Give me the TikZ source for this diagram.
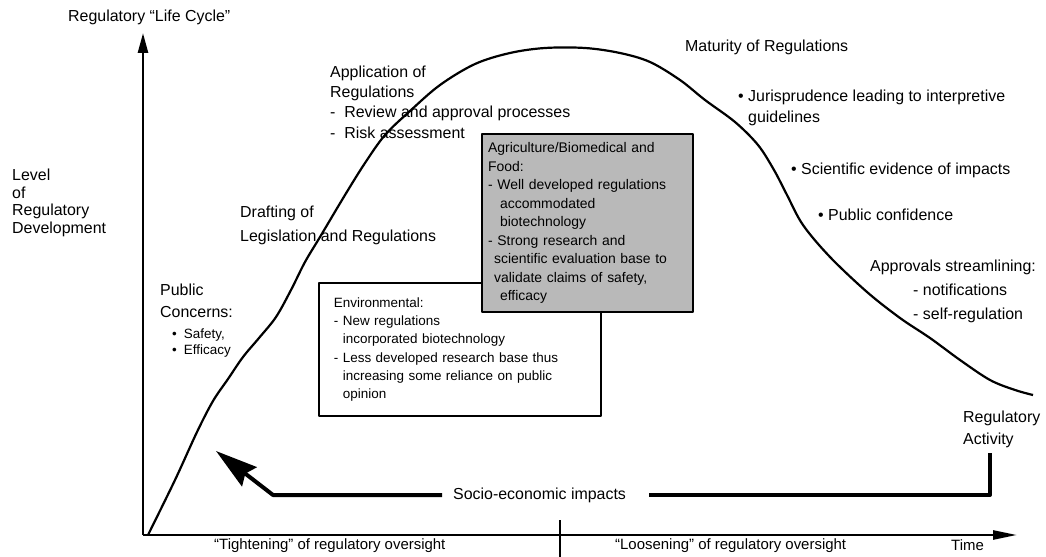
\documentclass[tikz,border=0pt]{standalone}
\usepackage{fontspec}
\setmainfont{Liberation Sans}
\usetikzlibrary{arrows.meta,calc}

\newcommand{\fsz}[2]{\fontsize{#1}{#2}\selectfont}

\begin{document}
\begin{tikzpicture}[x=1bp,y=-1bp,line join=round,
  lbl/.style={anchor=west,inner sep=0pt,align=left,font=\fsz{16}{20}},
  axis/.style={line width=2.6bp},
  cycle/.style={line width=2.2bp},
  impact/.style={line width=4bp}]
  \useasboundingbox (0,0) rectangle (1046,557);
  % axes
  \coordinate (O) at (143,535);
  \coordinate (ytop) at (143,33);
  \coordinate (xend) at (1017,535);
  \draw[axis,-{Triangle[length=20bp,width=10bp]}] (O) -- (ytop);
  \draw[axis,-{Triangle[length=24bp,width=9bp]}] (O) -- (xend);
  \draw[line width=2bp] (560,520) -- (560,557);
  % the life cycle curve
  \draw[cycle] plot[smooth,tension=0.55] coordinates {
    (148,535) (175,480) (197,432) (213,401) (228,379) (243,357) (259,338)
    (276,317) (291,290) (305,262) (320,237) (345,195) (365,163) (385,135)
    (410,111) (440,85) (475,64) (510,53) (545,48) (585,48) (620,53) (650,62)
    (680,80) (705,100) (735,122) (758,145) (774,170) (787,195) (803,225)
    (830,257) (867,292) (900,318) (930,338) (960,360) (990,380) (1015,390)
    (1033,395)};
  % axis labels
  \node[lbl] (title) at (68,17) {Regulatory ``Life Cycle''};
  \node[lbl,font=\fsz{16}{17.7}] (level) at (12,203)
    {Level\\of\\Regulatory\\Development};
  \node[lbl,font=\fsz{15}{18}] (tight) at (214,546) {``Tightening'' of regulatory oversight};
  \node[lbl,font=\fsz{15}{18}] (loose) at (615,546) {``Loosening'' of regulatory oversight};
  \node[lbl,font=\fsz{15}{18}] (time) at (951,545) {Time};
  % stages on the rise
  \node[lbl,font=\fsz{13.5}{17}] (safety) at (172,343)
    {\textbullet\hspace{7bp}Safety,\\\textbullet\hspace{7bp}Efficacy};
  \node[lbl,font=\fsz{16}{22}] (public) at (160,301) {Public\\Concerns:};
  \node[lbl,font=\fsz{16}{24}] (draft) at (240,225)
    {Drafting of\\Legislation and Regulations};
  \node[lbl,font=\fsz{16}{20.3}] (apply) at (330,102)
    {Application of\\Regulations\\- \ Review and approval processes\\- \ Risk assessment};
  % boxes
  \node[draw,line width=1.8bp,anchor=north west,minimum height=133bp,
    inner xsep=15bp,text width=252bp,align=left,font=\fsz{13.5}{18.4}]
    (env) at (318,282)
    {Environmental:\\
     -~New regulations\\
     \phantom{-~}incorporated biotechnology\\
     -~Less developed research base thus\\
     \phantom{-~}increasing some reliance on public\\
     \phantom{-~}opinion};
  \node[draw,line width=2.2bp,fill=gray!55,anchor=north west,minimum height=178bp,
    inner xsep=6bp,text width=199bp,align=left,font=\fsz{14}{18.6}]
    (agri) at (481,133)
    {Agriculture/Biomedical and\\
     Food:\\
     - Well developed regulations\\
     \hspace*{12bp}accommodated\\
     \hspace*{12bp}biotechnology\\
     - Strong research and\\
     \hspace*{6bp}scientific evaluation base to\\
     \hspace*{6bp}validate claims of safety,\\
     \hspace*{12bp}efficacy};
  % maturity side
  \node[lbl] (mature) at (685,47) {Maturity of Regulations};
  \node[lbl,font=\fsz{16}{21}] (juris) at (738,107.5)
    {\textbullet\ Jurisprudence leading to interpretive\\\phantom{\textbullet\ }guidelines};
  \node[lbl] (sci) at (791,170) {\textbullet\ Scientific evidence of impacts};
  \node[lbl] (conf) at (818,215) {\textbullet\ Public confidence};
  \node[lbl,font=\fsz{16}{24}] (stream) at (870,291)
    {Approvals streamlining:\\\hspace*{43bp}- notifications\\\hspace*{43bp}- self-regulation};
  \node[lbl,font=\fsz{16}{22}] (ract) at (963,429) {Regulatory\\Activity};
  % socio-economic feedback
  \node[lbl] (socio) at (453,495) {Socio-economic impacts};
  \coordinate (rfoot) at (990,453);
  \coordinate (bend) at (273,495);
  \coordinate (tip) at (216,451);
  \draw[impact] (rfoot) |- ([xshift=23bp]socio.east);
  \draw[impact,-{Stealth[length=42bp,width=24bp,inset=5bp]}]
    ([xshift=-11bp]socio.west) -- (bend) -- (tip);
\end{tikzpicture}
\end{document}
